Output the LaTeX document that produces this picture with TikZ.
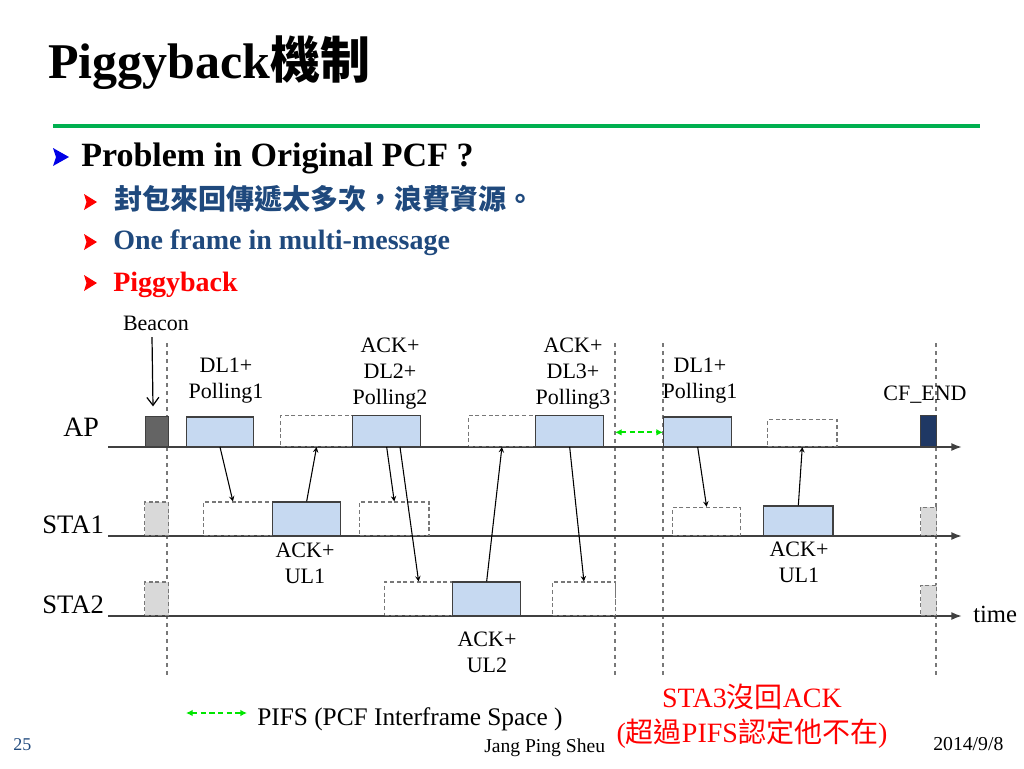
\documentclass[tikz,border=0pt]{standalone}
\usepackage{fontspec}
\setmainfont{Liberation Serif}
\newfontfamily\cjk{Noto Sans CJK TC}
\usepackage{tikz}
\usetikzlibrary{arrows,arrows.meta,positioning}
\usepackage{xcolor}
\definecolor{pbgreen}{RGB}{0,176,80}
\definecolor{pbnavy}{RGB}{31,73,125}
\definecolor{pbred}{RGB}{255,0,0}
\definecolor{pbblue}{RGB}{0,0,230}
\definecolor{pbfill}{RGB}{198,217,241}
\definecolor{pbedge}{RGB}{64,64,64}
\definecolor{pbdash}{RGB}{120,120,120}
\definecolor{pbgray}{RGB}{217,217,217}
\definecolor{pbbeacon}{RGB}{100,100,100}
\definecolor{pbcfend}{RGB}{31,56,100}
\definecolor{pbpifs}{RGB}{0,230,0}
\tikzstyle{dataframe} = [rectangle, anchor=south west, inner sep=0pt, minimum width=51pt, minimum height=23pt, draw=pbedge, fill=pbfill, line width=1pt]
\tikzstyle{idleframe} = [dataframe, draw=pbdash, fill=white, line width=0.9pt, dash pattern=on 3pt off 2pt]
\tikzstyle{grayframe} = [idleframe, fill=pbgray, minimum width=17pt]
\tikzstyle{timeline} = [line width=1.3pt, color=pbedge, -{Latex[length=8pt,width=6pt]}]
\tikzstyle{msg} = [line width=0.8pt, ->, >=stealth]
\tikzstyle{bound} = [line width=1pt, color=pbdash, dash pattern=on 3pt off 3pt]
\tikzstyle{pifs} = [line width=1.6pt, color=pbpifs, dash pattern=on 4pt off 2.5pt, {Latex[length=5pt,width=5pt]}-{Latex[length=5pt,width=5pt]}]
\tikzstyle{txt} = [inner sep=0pt, font=\fontsize{16.5}{19.5}\selectfont, align=center, anchor=base]

\begin{document}
\begin{tikzpicture}[x=0.75pt, y=-0.75pt]
\useasboundingbox (0,0) rectangle (1024,768);

% title
\node[anchor=base west, inner sep=0pt, font=\fontsize{37.5}{45}\selectfont\bfseries] (title) at (48,78) {Piggyback{\cjk 機制}};
\draw[pbgreen, line width=2.3pt] (53,126) -- (980,126);

% bullets
\fill[pbblue] (53,148) -- (69,157) -- (53,166) -- (56,157) -- cycle;
\node[anchor=base west, inner sep=0pt, font=\fontsize{25.5}{30}\selectfont\bfseries] (prob) at (81,166) {Problem in Original PCF ?};
\foreach \y in {202,242,283}
  \fill[pbred] (84,\y-8) -- (97,\y) -- (84,\y+8) -- (86.5,\y) -- cycle;
\node[anchor=base west, inner sep=0pt, font=\fontsize{21}{25}\selectfont\cjk\bfseries, text=pbnavy] (waste) at (114,209) {封包來回傳遞太多次，浪費資源。};
\node[anchor=base west, inner sep=0pt, font=\fontsize{21}{25}\selectfont\bfseries, text=pbnavy] (multi) at (113,249) {One frame in multi-message};
\node[anchor=base west, inner sep=0pt, font=\fontsize{21}{25}\selectfont\bfseries, text=pbred] (piggy) at (113,291) {Piggyback};

% boundaries
\foreach \x in {167,615,663,936}
  \draw[bound] (\x,343) -- (\x,678);

% station names
\node[anchor=base west, inner sep=0pt, font=\fontsize{21}{25}\selectfont] (ap) at (63,436) {AP};
\node[anchor=base west, inner sep=0pt, font=\fontsize{20}{24}\selectfont] (sta1) at (42,533) {STA1};
\node[anchor=base west, inner sep=0pt, font=\fontsize{20}{24}\selectfont] (sta2) at (42,613) {STA2};
\draw[timeline] (108,447) -- (962,447);
\draw[timeline] (108,536) -- (962,536);
\draw[timeline] (108,616) -- (962,616);
\node[anchor=base west, inner sep=0pt, font=\fontsize{18.5}{22}\selectfont] (time) at (973,622) {time};

% AP frames
\node[dataframe, fill=pbbeacon, minimum width=17pt, minimum height=22.5pt] (bcn) at (145,447) {};
\node[dataframe, minimum width=50pt, minimum height=22pt] (apdl1) at (186,447) {};
\node[idleframe, minimum width=54pt] (apwait1) at (280,447) {};
\node[dataframe] (apdl2) at (352,447) {};
\node[idleframe, minimum width=50pt] (apwait2) at (468,447) {};
\node[dataframe] (apdl3) at (535,447) {};
\node[dataframe, minimum height=22pt] (apdl4) at (663,447) {};
\node[idleframe, minimum width=52pt, minimum height=20pt] (apwait3) at (767,447) {};
\node[dataframe, fill=pbcfend, minimum width=12pt] (cfend) at (920,447) {};

% STA1 frames
\node[grayframe, minimum width=18pt, minimum height=25pt] (s1gap1) at (144,536) {};
\node[idleframe, minimum width=52pt, minimum height=25pt] (s1wait1) at (203,536) {};
\node[dataframe, minimum height=25pt] (s1ul1) at (272,536) {};
\node[idleframe, minimum width=52pt, minimum height=25pt] (s1wait2) at (359,536) {};
\node[idleframe, minimum height=21pt] (s1wait3) at (672,536) {};
\node[dataframe, minimum width=52pt, minimum height=22pt] (s1ul3) at (763,536) {};
\node[grayframe, minimum width=12pt, minimum height=21pt] (s1gap2) at (920,536) {};

% STA2 frames
\node[grayframe, minimum width=18pt, minimum height=25pt] (s2gap1) at (144,616) {};
\node[idleframe, minimum height=25pt] (s2wait1) at (384,616) {};
\node[dataframe, minimum height=25pt] (s2ul2) at (452,616) {};
\node[idleframe, minimum width=47pt, minimum height=25pt] (s2wait2) at (552,616) {};
\node[grayframe, minimum width=12pt, minimum height=22.5pt] (s2gap2) at (920,616) {};

% labels
\node[txt] (beacon) at (156,330) {Beacon};
\node[txt] (dl1txt) at (226,398) {DL1+\\Polling1};
\node[txt] (dl2txt) at (390,404) {ACK+\\DL2+\\Polling2};
\node[txt] (dl3txt) at (573,404) {ACK+\\DL3+\\Polling3};
\node[txt] (dl4txt) at (700,398) {DL1+\\Polling1};
\node[txt] (cftxt) at (925,400) {CF\_END};
\node[txt] (ul1txt) at (305,583) {ACK+\\UL1};
\node[txt] (ul2txt) at (487,672) {ACK+\\UL2};
\node[txt] (ul3txt) at (799,582) {ACK+\\UL1};

% messages
\draw[line width=0.9pt, -{Straight Barb[length=6pt,width=9pt]}] ([xshift=-3pt,yshift=-5pt]beacon.south) -- ([xshift=-3pt,yshift=7pt]bcn.north);
\draw[msg] (apdl1.south) -- ([xshift=-4pt]s1wait1.north);
\draw[msg] (s1ul1.north) -- (apwait1.south);
\draw[msg] (apdl2.south) -- (s1wait2.north);
\draw[msg] ([xshift=10pt]apdl2.south) -- (s2wait1.north);
\draw[msg] (s2ul2.north) -- (apwait2.south);
\draw[msg] (apdl3.south) -- (s2wait2.north);
\draw[msg] (apdl4.south) -- (s1wait3.north);
\draw[msg] (s1ul3.north) -- (apwait3.south);

% PIFS
\draw[pifs] ([yshift=11pt]apdl3.south east -| 615,0) coordinate (p1) -- ([yshift=11pt]apdl4.south west) coordinate (p2);
\coordinate (leg1) at (186,713);
\coordinate (leg2) at (247,713);
\draw[pifs] (leg1) -- (leg2);
\node[anchor=base west, inner sep=0pt, font=\fontsize{19}{23}\selectfont] (legtxt) at (257,725) {PIFS (PCF Interframe Space )};

% note
\node[txt, font=\fontsize{21}{26}\selectfont, text=pbred] (note) at (752,742) {STA3{\cjk 沒回}ACK\\({\cjk 超過}PIFS{\cjk 認定他不在})};

% footer
\node[anchor=base west, inner sep=0pt, font=\fontsize{13.5}{16}\selectfont, text=pbnavy] (page) at (13,750) {25};
\node[anchor=base west, inner sep=0pt, font=\fontsize{14.7}{18}\selectfont] (author) at (484,752) {Jang Ping Sheu};
\node[anchor=base west, inner sep=0pt, font=\fontsize{14.8}{18}\selectfont] (date) at (933,750) {2014/9/8};
\end{tikzpicture}
\end{document}
